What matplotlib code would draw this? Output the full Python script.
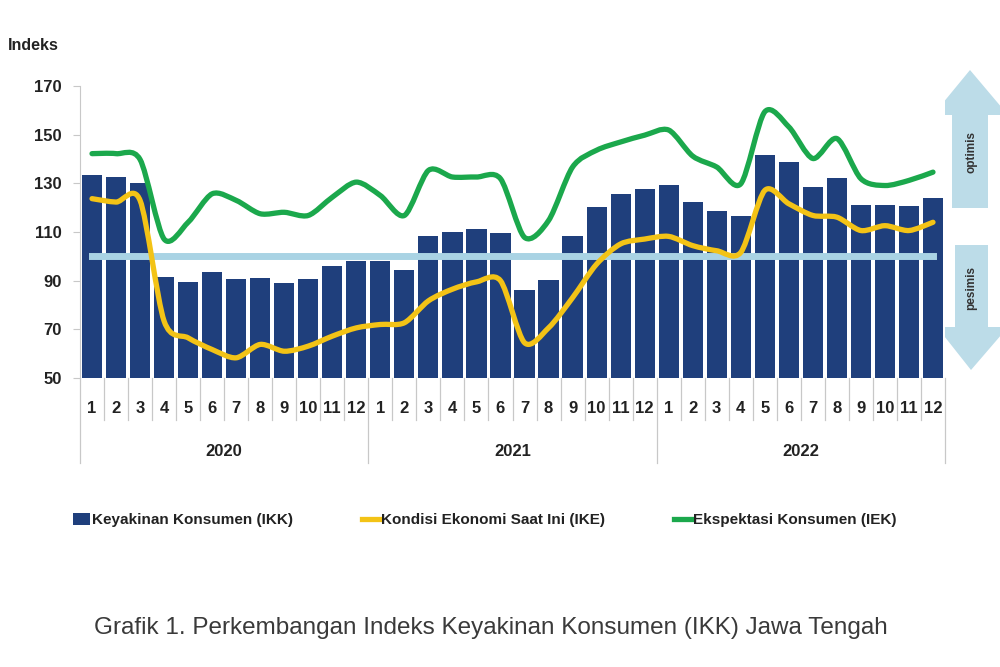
import matplotlib
matplotlib.use("Agg")
import matplotlib.pyplot as plt
from matplotlib.patches import Polygon, PathPatch, Patch
from matplotlib.lines import Line2D
from matplotlib.path import Path
import numpy as np

# data
years = ["2020", "2021", "2022"]
months = [str(m) for m in range(1, 13)]

ikk = [133.3, 132.6, 130.1, 91.7, 89.6, 93.4, 90.6, 90.9, 89.2, 90.5, 96.1, 98.2,
       98.0, 94.5, 108.5, 109.9, 111.3, 109.6, 86.1, 90.2, 108.5, 120.2, 125.7, 127.5,
       129.3, 122.3, 118.8, 116.5, 141.5, 138.8, 128.5, 132.2, 120.9, 120.9, 120.5, 123.9]

ike = [123.7, 122.3, 123.0, 73.4, 66.5, 61.7, 58.3, 63.8, 61.0, 63.1, 67.2, 70.6,
       72.0, 72.7, 81.7, 86.5, 89.5, 90.0, 64.5, 70.6, 83.0, 96.8, 105.1, 107.1,
       108.2, 104.4, 102.3, 101.6, 127.1, 121.6, 116.8, 116.1, 110.6, 112.6, 110.6, 114.0]

iek = [142.2, 142.2, 139.8, 107.1, 114.0, 125.7, 123.0, 117.5, 118.1, 116.8, 124.3, 130.5,
       125.0, 116.8, 135.3, 132.6, 132.6, 131.9, 107.8, 114.7, 136.7, 143.6, 147.0, 149.8,
       151.9, 141.2, 136.7, 129.8, 159.4, 153.2, 140.2, 148.4, 131.9, 129.1, 131.2, 134.6]

baseline = 100

bar_color = "#1f3f7c"
yellow = "#f3c316"
green = "#1ba84c"
light_blue = "#a9d3e4"
arrow_blue = "#bcdce8"
plt.rcParams["font.family"] = ["Liberation Sans", "DejaVu Sans"]


def smooth_path(xs, ys, k=7.0):
    # Excel-style smoothed line: Catmull-Rom-like segments as cubic Beziers
    pts = np.column_stack([xs, ys]).astype(float)
    ext = np.vstack([pts[0], pts, pts[-1]])
    verts = [pts[0]]
    codes = [Path.MOVETO]
    for i in range(1, len(ext) - 2):
        p0, p1, p2, p3 = ext[i - 1], ext[i], ext[i + 1], ext[i + 2]
        verts += [p1 + (p2 - p0) / k, p2 - (p3 - p1) / k, p2]
        codes += [Path.CURVE4] * 3
    return Path(verts, codes)


fig = plt.figure(figsize=(10, 6.67), dpi=100)
ax = fig.add_axes([0.08, 1 - 378 / 667, 0.865, (378 - 86) / 667])

x = np.arange(len(ikk))
ax.bar(x, ikk, width=0.84, color=bar_color, zorder=2)
ax.plot([x[0], x[-1]], [baseline, baseline], color=light_blue, lw=5, zorder=3)
for series, col in [(ike, yellow), (iek, green)]:
    ax.add_patch(PathPatch(smooth_path(x, series), facecolor="none", edgecolor=col,
                           lw=3.8, joinstyle="round", capstyle="round", zorder=4))

ax.set_xlim(-0.5, len(ikk) - 0.5)
ax.set_ylim(50, 170)
ax.set_yticks(range(50, 171, 20))
for lbl in ax.get_yticklabels():
    lbl.set_fontweight("bold")
    lbl.set_fontsize(12)
    lbl.set_color("#222222")
ax.tick_params(axis="y", length=5, color="#c8c8c8", pad=8)
for s in ["top", "right", "bottom"]:
    ax.spines[s].set_visible(False)
ax.spines["left"].set_color("#c8c8c8")
ax.set_xticks([])

# month / year category axis below the plot
trans = ax.get_xaxis_transform()
px = 1 / (378 - 86)
for i in range(len(ikk) + 1):
    bottom = -(463 - 378) * px if i % 12 == 0 else -(420 - 378) * px
    ax.plot([i - 0.5, i - 0.5], [0, bottom], transform=trans, color="#c8c8c8",
            lw=0.9, clip_on=False)
for i in range(len(ikk)):
    ax.text(i, -(408 - 378) * px, months[i % 12], transform=trans, ha="center",
            va="center", fontsize=12, fontweight="bold", color="#222222")
for k, yr in enumerate(years):
    ax.text(k * 12 + 5.5, -(451 - 378) * px, yr, transform=trans, ha="center",
            va="center", fontsize=12, fontweight="bold", color="#222222")

fig.text(0.008, 1 - 46 / 667, "Indeks", fontsize=11.5, fontweight="bold",
         va="center", color="#222222")

# optimis / pesimis arrows
ov = fig.add_axes([0, 0, 1, 1], zorder=-1)
ov.set_xlim(0, 1000)
ov.set_ylim(667, 0)
ov.axis("off")
up = [(970, 70), (1008, 115), (988, 115), (988, 208), (952, 208), (952, 115), (933, 115)]
down = [(955, 245), (988, 245), (988, 327), (1008, 327), (971, 370), (937, 327), (955, 327)]
ov.add_patch(Polygon(up, closed=True, color=arrow_blue, lw=0))
ov.add_patch(Polygon(down, closed=True, color=arrow_blue, lw=0))
ov.text(971, 152, "optimis", rotation=90, ha="center", va="center", fontsize=8.5,
        fontweight="bold", color="#333333")
ov.text(971, 288, "pesimis", rotation=90, ha="center", va="center", fontsize=8.5,
        fontweight="bold", color="#333333")

handles = [Patch(facecolor=bar_color),
           Line2D([], [], color=yellow, lw=3.8),
           Line2D([], [], color=green, lw=3.8)]
labels = ["Keyakinan Konsumen (IKK)", "Kondisi Ekonomi Saat Ini (IKE)",
          "Ekspektasi Konsumen (IEK)"]
leg = fig.legend(handles, labels, loc="center", bbox_to_anchor=(0.485, 1 - 520 / 667),
                 ncol=3, frameon=False, handlelength=1.1, handleheight=0.8,
                 handletextpad=0.15, columnspacing=4.5,
                 prop={"weight": "bold", "size": 11})
for t in leg.get_texts():
    t.set_color("#222222")

fig.text(0.491, 1 - 628 / 667,
         "Grafik 1. Perkembangan Indeks Keyakinan Konsumen (IKK) Jawa Tengah",
         ha="center", va="center", fontsize=17.5, color="#3a3a3a")

fig.savefig("out.png", dpi=100)
